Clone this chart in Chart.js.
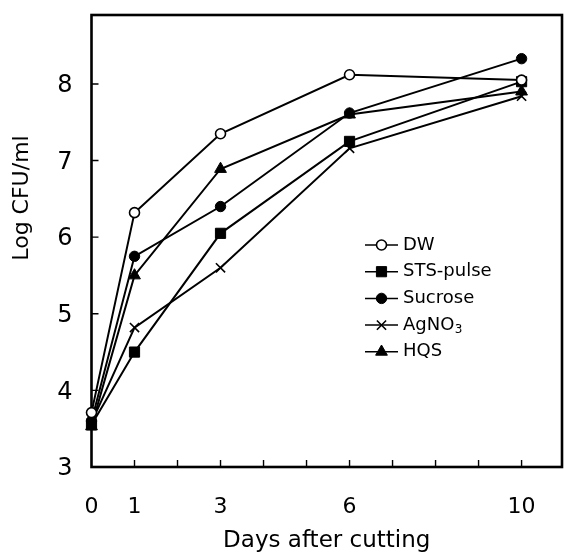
<!DOCTYPE html>
<html>
<head>
<meta charset="utf-8">
<script src="https://cdn.jsdelivr.net/npm/chart.js@4/dist/chart.umd.min.js"></script>
<style>
html,body{margin:0;padding:0;background:#fff;overflow:hidden}
#wrap{width:564px;height:556px;position:relative}
</style>
</head>
<body>
<div id="wrap"><canvas id="c" width="564" height="556"></canvas></div>
<script>
// ---- data ----
const days = [0, 1, 3, 6, 10];
const seriesNames = ['DW', 'STS-pulse', 'Sucrose', 'AgNO3', 'HQS'];
const dw       = [3.71, 6.32, 7.35, 8.12, 8.05];
const stsPulse = [3.55, 4.50, 6.05, 7.25, 8.03];
const sucrose  = [3.60, 5.75, 6.40, 7.62, 8.33];
const agno3    = [3.58, 4.82, 5.60, 7.16, 7.84];
const hqs      = [3.53, 5.50, 6.89, 7.60, 7.90];
const xTickValues = [0, 1, 2, 3, 4, 5, 6, 7, 8, 9, 10];
const xTickLabels = [0, 1, 3, 6, 10];
const yTickValues = [3, 4, 5, 6, 7, 8];
const xAxisTitle = 'Days after cutting';
const yAxisTitle = 'Log CFU/ml';

const FONT = 'DejaVu Sans';
const seriesValues = [dw, stsPulse, sucrose, agno3, hqs];
const styles = [
  {pointStyle: 'circle',   radius: 5,   bg: '#ffffff', bw: 1.6},
  {pointStyle: 'rect',     radius: 7.2, bg: '#000000', bw: 1},
  {pointStyle: 'circle',   radius: 5.2, bg: '#000000', bw: 1},
  {pointStyle: 'crossRot', radius: 6.5, bg: '#000000', bw: 1.6},
  {pointStyle: 'triangle', radius: 6.8, bg: '#000000', bw: 1}
];

const datasets = seriesNames.map((name, i) => ({
  label: name,
  data: days.map((d, j) => ({x: d, y: seriesValues[i][j]})),
  borderColor: '#000',
  borderWidth: 2,
  backgroundColor: styles[i].bg,
  pointStyle: styles[i].pointStyle,
  pointRadius: styles[i].radius,
  pointBackgroundColor: styles[i].bg,
  pointBorderColor: '#000',
  pointBorderWidth: styles[i].bw,
  fill: false,
  tension: 0,
  clip: false
}));

function drawMarker(ctx, st, x, y) {
  ctx.save();
  ctx.fillStyle = st.bg;
  ctx.strokeStyle = '#000';
  ctx.lineWidth = st.bw;
  if (Chart.helpers && Chart.helpers.drawPoint) {
    Chart.helpers.drawPoint(ctx, {pointStyle: st.pointStyle, radius: st.radius, rotation: 0, borderWidth: st.bw}, x, y);
  } else {
    ctx.beginPath();
    ctx.arc(x, y, st.radius, 0, Math.PI * 2);
    ctx.fill(); ctx.stroke();
  }
  ctx.restore();
}

const framePlugin = {
  id: 'frame',
  beforeDatasetsDraw(chart) {
    const {ctx, chartArea: a, scales} = chart;
    ctx.save();
    ctx.strokeStyle = '#000';
    ctx.lineWidth = 2.6;
    ctx.strokeRect(a.left, a.top, a.right - a.left, a.bottom - a.top);
    ctx.lineWidth = 1.4;
    ctx.beginPath();
    xTickValues.forEach(v => {
      if (v === 0) return;
      const px = scales.x.getPixelForValue(v);
      ctx.moveTo(px, a.bottom);
      ctx.lineTo(px, a.bottom - 7);
    });
    yTickValues.forEach(v => {
      if (v === 3) return;
      const py = scales.y.getPixelForValue(v);
      ctx.moveTo(a.left, py);
      ctx.lineTo(a.left + 7, py);
    });
    ctx.stroke();
    ctx.restore();
  },
  afterDraw(chart) {
    const {ctx} = chart;
    // y-axis title
    ctx.save();
    ctx.fillStyle = '#000';
    ctx.font = '22px "' + FONT + '"';
    ctx.translate(22, 198);
    ctx.rotate(-Math.PI / 2);
    ctx.textAlign = 'center';
    ctx.textBaseline = 'middle';
    ctx.fillText(yAxisTitle, 0, 0);
    ctx.restore();
    // legend
    const lx0 = 365, lx1 = 398, tx = 403, y0 = 245, dy = 26.7;
    seriesNames.forEach((name, i) => {
      const y = y0 + i * dy;
      ctx.save();
      ctx.strokeStyle = '#000';
      ctx.lineWidth = 1.5;
      ctx.beginPath();
      ctx.moveTo(lx0, y); ctx.lineTo(lx1, y);
      ctx.stroke();
      ctx.restore();
      drawMarker(ctx, styles[i], (lx0 + lx1) / 2, y);
      ctx.save();
      ctx.fillStyle = '#000';
      ctx.textAlign = 'left';
      ctx.textBaseline = 'middle';
      ctx.font = '18px "' + FONT + '"';
      const m = name.match(/^(.*?)(\d+)$/);
      if (m) {
        ctx.fillText(m[1], tx, y);
        const w = ctx.measureText(m[1]).width;
        ctx.font = '12px "' + FONT + '"';
        ctx.fillText(m[2], tx + w + 0.5, y + 5);
      } else {
        ctx.fillText(name, tx, y);
      }
      ctx.restore();
    });
  }
};

new Chart(document.getElementById('c'), {
  type: 'line',
  data: {datasets},
  plugins: [framePlugin],
  options: {
    responsive: false,
    animation: false,
    devicePixelRatio: 1,
    layout: {autoPadding: false, padding: {left: 0, right: 2, top: 15, bottom: 0}},
    plugins: {legend: {display: false}, tooltip: {enabled: false}},
    scales: {
      x: {
        type: 'linear',
        min: 0,
        max: 10.94,
        afterBuildTicks: s => { s.ticks = xTickValues.map(v => ({value: v})); },
        afterFit: s => { s.height = 89; s.paddingLeft = 0; s.paddingRight = 0; },
        ticks: {
          callback: v => xTickLabels.includes(v) ? String(v) : '',
          font: {family: FONT, size: 22},
          color: '#000',
          padding: 27,
          maxRotation: 0,
          autoSkip: false
        },
        grid: {display: false, drawTicks: false},
        border: {display: false},
        title: {display: true, text: xAxisTitle, color: '#000', font: {family: FONT, size: 23}, padding: {top: 0, bottom: 1}}
      },
      y: {
        type: 'linear',
        min: 3,
        max: 8.9,
        afterBuildTicks: s => { s.ticks = yTickValues.map(v => ({value: v})); },
        afterFit: s => { s.width = 91.5; s.paddingTop = 0; s.paddingBottom = 0; },
        ticks: {
          font: {family: FONT, size: 24},
          color: '#000',
          padding: 19,
          labelOffset: 2
        },
        grid: {display: false, drawTicks: false},
        border: {display: false},
        title: {display: false}
      }
    }
  }
});
</script>
</body>
</html>
